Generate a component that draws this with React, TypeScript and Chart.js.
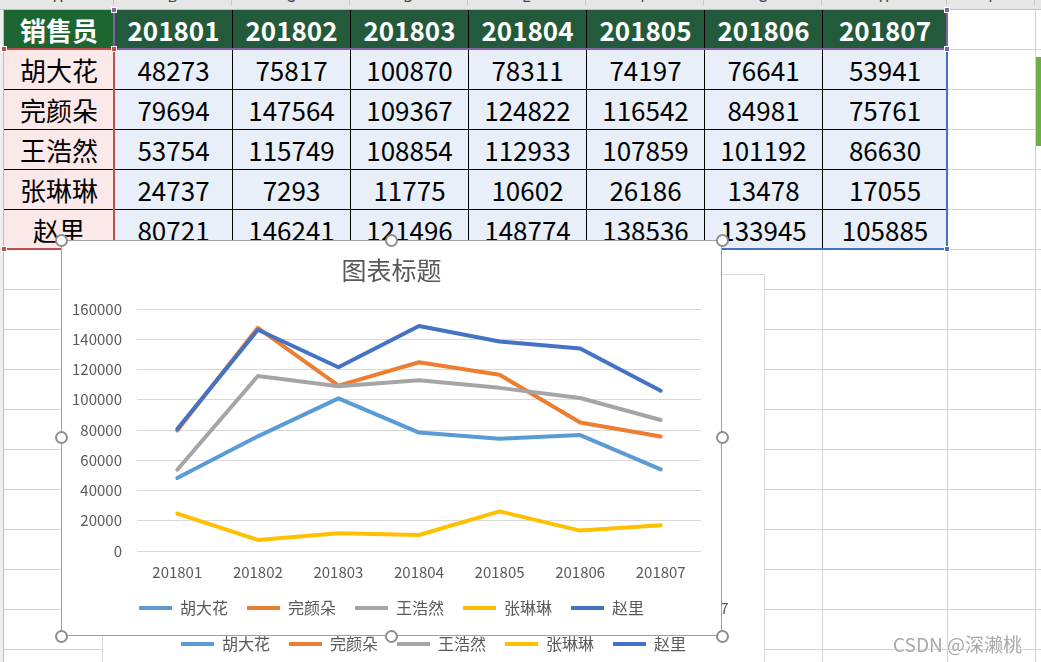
import React, { useEffect, useRef } from "react";
import { Chart, registerables } from "chart.js";

Chart.register(...registerables);

const FONT = "'Noto Sans CJK SC', 'Noto Sans', sans-serif";

// ---- data ----
const months = ["201801", "201802", "201803", "201804", "201805", "201806", "201807"];
const seriesNames = ["胡大花", "完颜朵", "王浩然", "张琳琳", "赵里"];
const huDaHua = [48273, 75817, 100870, 78311, 74197, 76641, 53941];
const wanYanDuo = [79694, 147564, 109367, 124822, 116542, 84981, 75761];
const wangHaoRan = [53754, 115749, 108854, 112933, 107859, 101192, 86630];
const zhangLinLin = [24737, 7293, 11775, 10602, 26186, 13478, 17055];
const zhaoLi = [80721, 146241, 121496, 148774, 138536, 133945, 105885];
const seriesColors = ["#5B9BD5", "#ED7D31", "#A5A5A5", "#FFC000", "#4472C4"];
const chartTitle = "图表标题";
const headerLabel = "销售员";
const columnLetters = ["A", "B", "C", "D", "E", "F", "G", "H", "I"];
const yMin = 0;
const yMax = 160000;
const yStep = 20000;
const watermark = "CSDN @深濑桃";

// sheet geometry
const colEdges = [3, 114, 232, 350, 468, 586, 704, 822, 947, 1035];
const rowEdges = [9, 49, 89, 129, 169, 209, 249, 289, 329, 369, 409, 449, 489, 529, 569, 609, 649];

function LineChart({ showGrid }: { showGrid: boolean }) {
  const ref = useRef<HTMLCanvasElement>(null);
  useEffect(() => {
    const all = [huDaHua, wanYanDuo, wangHaoRan, zhangLinLin, zhaoLi];
    const chart = new Chart(ref.current as HTMLCanvasElement, {
      type: "line",
      data: {
        labels: months,
        datasets: all.map((d, i) => ({
          label: seriesNames[i],
          data: d,
          borderColor: seriesColors[i],
          backgroundColor: seriesColors[i],
          borderWidth: 4,
          pointRadius: 0,
          pointHoverRadius: 0,
          tension: 0,
          fill: false,
          borderCapStyle: "round",
          borderJoinStyle: "round",
          pointStyle: "line",
          order: all.length - 1 - i,
          yAxisID: "y",
        })),
      },
      options: {
        animation: false,
        responsive: true,
        maintainAspectRatio: false,
        events: [],
        layout: { padding: { left: 0, right: 0, top: 0, bottom: 10 } },
        plugins: {
          title: {
            display: true,
            text: chartTitle,
            color: "#595959",
            font: { family: FONT, size: 25, weight: "normal" },
            padding: { top: 15, bottom: 24 },
          },
          legend: {
            position: "bottom",
            labels: {
              usePointStyle: true,
              pointStyle: "line",
              pointStyleWidth: 33,
              boxHeight: 16,
              padding: 19,
              color: "#595959",
              font: { family: FONT, size: 16 },
              sort: (a: any, b: any) => a.datasetIndex - b.datasetIndex,
            },
          },
          tooltip: { enabled: false },
        },
        scales: {
          x: {
            offset: true,
            grid: { display: false, drawTicks: false },
            border: { display: false },
            ticks: {
              color: "#595959",
              font: { family: FONT, size: 15 },
              padding: 12,
              maxRotation: 0,
              autoSkip: false,
            },
            afterFit: (s: any) => {
              s.height = 30;
            },
          },
          y: {
            min: yMin,
            max: yMax,
            grid: { display: showGrid, color: "#d9d9d9", lineWidth: 1, drawTicks: false },
            border: { display: false },
            ticks: {
              stepSize: yStep,
              color: "#595959",
              font: { family: FONT, size: 15 },
              padding: 15,
              callback: (v: any) => String(v),
            },
            afterFit: (s: any) => {
              s.width = 76;
            },
          },
          yRightSpace: {
            type: "linear",
            position: "right",
            display: true,
            grid: { display: false, drawTicks: false },
            border: { display: false },
            ticks: { display: false },
            afterFit: (s: any) => {
              s.width = 21;
            },
          },
        },
      } as any,
    });
    return () => chart.destroy();
  }, [showGrid]);
  return <canvas ref={ref} />;
}

function Handle({ x, y }: { x: number; y: number }) {
  return (
    <div
      style={{
        position: "absolute",
        left: x - 6,
        top: y - 6,
        width: 13,
        height: 13,
        boxSizing: "border-box",
        borderRadius: "50%",
        border: "2px solid #8e8e8e",
        background: "#fff",
      }}
    />
  );
}

function Sq({ x, y, color }: { x: number; y: number; color: string }) {
  return (
    <div
      style={{
        position: "absolute",
        left: x - 3,
        top: y - 3,
        width: 6,
        height: 6,
        background: color,
        border: "1px solid #fff",
        boxSizing: "border-box",
      }}
    />
  );
}

function Line({ x1, y1, x2, y2, color, w }: { x1: number; y1: number; x2: number; y2: number; color: string; w: number }) {
  const horizontal = y1 === y2;
  return (
    <div
      style={{
        position: "absolute",
        left: horizontal ? x1 : x1 - Math.floor(w / 2),
        top: horizontal ? y1 - Math.floor(w / 2) : y1,
        width: horizontal ? x2 - x1 : w,
        height: horizontal ? w : y2 - y1,
        background: color,
      }}
    />
  );
}

export default function App() {
  const all = [huDaHua, wanYanDuo, wangHaoRan, zhangLinLin, zhaoLi];
  const cells: React.ReactNode[] = [];
  for (let r = 0; r < 6; r++) {
    for (let c = 0; c < 8; c++) {
      let text = "";
      let bg = "#e9eff8";
      let color = "#000";
      let weight = 400;
      if (r === 0) {
        text = c === 0 ? headerLabel : months[c - 1];
        bg = c === 0 ? "#1e6631" : "#225a3b";
        color = "#fff";
        weight = 700;
      } else if (c === 0) {
        text = seriesNames[r - 1];
        bg = "#fbe9ea";
      } else {
        text = String(all[r - 1][c - 1]);
      }
      const left = colEdges[c] + 1;
      const top = rowEdges[r] + 1;
      const width = colEdges[c + 1] - colEdges[c];
      const height = rowEdges[r + 1] - rowEdges[r];
      cells.push(
        <div
          key={`c${r}-${c}`}
          style={{
            position: "absolute",
            left,
            top,
            width,
            height,
            boxSizing: "border-box",
            borderRight: "1px solid #000",
            borderBottom: "1px solid #000",
            background: bg,
            color,
            fontWeight: weight,
            fontSize: 26,
            lineHeight: `${height - 1}px`,
            textAlign: "center",
            whiteSpace: "nowrap",
          }}
        >
          {text}
        </div>
      );
    }
  }

  const handles: [number, number][] = [
    [61, 240], [391, 240], [722, 240],
    [61, 437], [722, 437],
    [61, 636], [391, 636], [722, 636],
  ];

  return (
    <div
      style={{
        position: "fixed",
        left: 0,
        top: 0,
        width: 1041,
        height: 662,
        overflow: "hidden",
        background: "#fff",
        fontFamily: FONT,
      }}
    >
      {/* sheet grid */}
      {colEdges.map((x, i) => (
        <Line key={`v${i}`} x1={x} y1={0} x2={x} y2={662} color="#d4d4d4" w={1} />
      ))}
      {rowEdges.map((y, i) => (
        <Line key={`h${i}`} x1={0} y1={y} x2={1041} y2={y} color="#d4d4d4" w={1} />
      ))}
      {/* row header strip */}
      <div style={{ position: "absolute", left: 0, top: 0, width: 3, height: 662, background: "#efefef" }} />
      <Line x1={3} y1={0} x2={3} y2={662} color="#bdbdbd" w={1} />
      {/* column header strip */}
      <div style={{ position: "absolute", left: 0, top: 0, width: 1041, height: 9, background: "#e6e6e6", overflow: "hidden" }}>
        {columnLetters.map((l, i) => {
          const x0 = colEdges[i];
          const x1 = i + 1 < colEdges.length ? colEdges[i + 1] : 1100;
          return (
            <div
              key={l}
              style={{
                position: "absolute",
                left: x0,
                width: x1 - x0,
                top: -13,
                height: 18,
                lineHeight: "18px",
                fontSize: 15,
                color: "#444",
                textAlign: "center",
                borderRight: "1px solid #c6c6c6",
                boxSizing: "border-box",
              }}
            >
              {l}
            </div>
          );
        })}
      </div>
      <Line x1={0} y1={9} x2={1041} y2={9} color="#bfbfbf" w={1} />

      {/* table */}
      {cells}

      {/* selection outlines */}
      <Line x1={114} y1={10} x2={114} y2={49} color="#8064a2" w={2} />
      <Line x1={114} y1={49} x2={948} y2={49} color="#8064a2" w={2} />
      <Line x1={947} y1={10} x2={947} y2={49} color="#8064a2" w={2} />
      <Line x1={4} y1={49} x2={114} y2={49} color="#c0504d" w={2} />
      <Line x1={114} y1={50} x2={114} y2={250} color="#c0504d" w={2} />
      <Line x1={4} y1={249} x2={115} y2={249} color="#c0504d" w={2} />
      <Line x1={947} y1={50} x2={947} y2={250} color="#4472c4" w={2} />
      <Line x1={115} y1={249} x2={948} y2={249} color="#4472c4" w={2} />
      <Sq x={114} y={10} color="#8064a2" />
      <Sq x={947} y={10} color="#8064a2" />
      <Sq x={947} y={49} color="#8064a2" />
      <Sq x={4} y={49} color="#c0504d" />
      <Sq x={114} y={49} color="#c0504d" />
      <Sq x={4} y={249} color="#c0504d" />
      <Sq x={947} y={249} color="#4472c4" />

      {/* green bar at right */}
      <div style={{ position: "absolute", left: 1036, top: 57, width: 5, height: 89, background: "#70ad47" }} />

      {/* chart behind */}
      <div style={{ position: "absolute", left: 102, top: 274, width: 663, height: 398, background: "#fff" }}>
        <LineChart showGrid={false} />
        <div style={{ position: "absolute", inset: 0, border: "1px solid #d9d9d9", pointerEvents: "none" }} />
      </div>

      {/* front chart */}
      <div style={{ position: "absolute", left: 61, top: 240, width: 661, height: 396, background: "#fff" }}>
        <LineChart showGrid={true} />
        <div style={{ position: "absolute", inset: 0, border: "1px solid #a0a0a0", pointerEvents: "none" }} />
      </div>
      {handles.map(([x, y], i) => (
        <Handle key={`hd${i}`} x={x} y={y} />
      ))}

      {/* watermark */}
      <div
        style={{
          position: "absolute",
          left: 893,
          top: 631,
          fontSize: 19,
          lineHeight: "26px",
          color: "#a8a8a8",
          whiteSpace: "nowrap",
          textShadow: "0 0 2px #fff, 0 0 2px #fff",
        }}
      >
        {watermark}
      </div>
    </div>
  );
}
